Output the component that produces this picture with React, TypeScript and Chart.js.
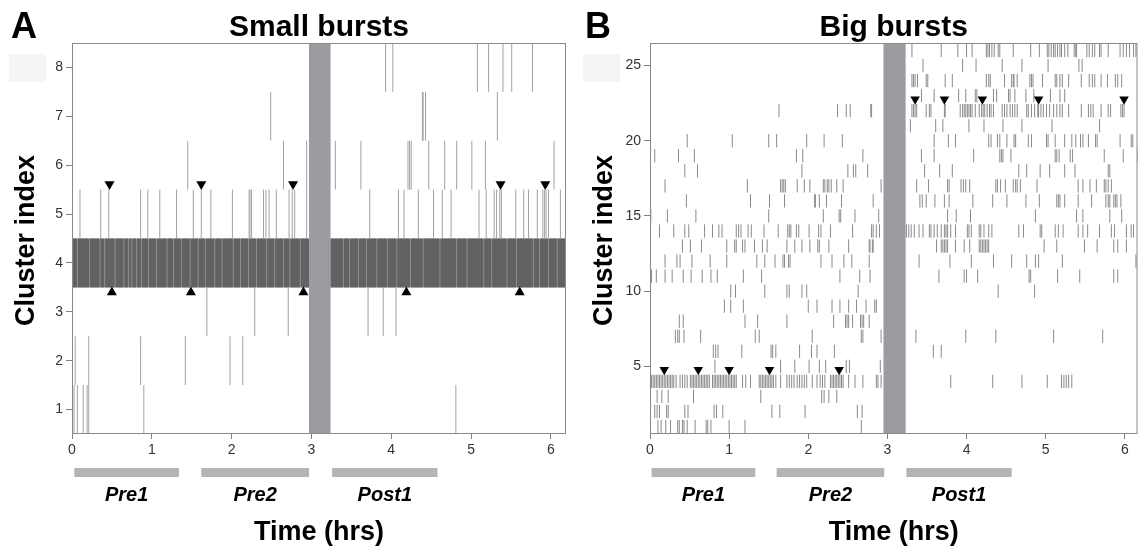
import React, { useEffect, useRef } from 'react';
import { Chart, registerables } from 'chart.js';

Chart.register(...registerables);

const FONT = '"Liberation Sans", Arial, Helvetica, sans-serif';

// ---------------- Panel A : Small bursts ----------------
const smallYTicks = [1, 2, 3, 4, 5, 6, 7, 8];
const xTickValues = [0, 1, 2, 3, 4, 5, 6];
const epochNames = ['Pre1', 'Pre2', 'Post1'];

const smallC1 = [0.025, 0.067, 0.14, 0.19, 0.21, 0.9, 4.81];
const smallC2 = [0.04, 0.21, 0.86, 1.42, 1.98, 2.14];
const smallC3 = [1.69, 2.29, 2.71, 3.71, 3.9, 4.06];
const smallC5 = [0.1, 0.36, 0.46, 0.86, 0.95, 1.1, 1.31, 1.52, 1.62, 1.74, 2.01, 2.22, 2.23, 2.25, 2.4, 2.43, 2.47, 2.56, 2.72, 2.76, 2.79, 2.94, 3.73, 4.09, 4.16, 4.34, 4.53, 4.64, 4.75, 5.1, 5.19, 5.29, 5.32, 5.36, 5.38, 5.56, 5.66, 5.72, 5.83, 5.9, 5.92, 5.94, 5.97, 6.12];
const smallC6 = [1.45, 2.65, 2.94, 3.3, 3.62, 4.21, 4.23, 4.25, 4.47, 4.67, 4.82, 5.01, 5.18, 6.04];
const smallC7 = [2.49, 4.39, 4.4, 4.43, 5.33];
const smallC8 = [3.93, 4.02, 5.08, 5.22, 5.4, 5.51, 5.77];
const smallClusters = [1, 2, 3, 5, 6, 7, 8];
const smallRows = [smallC1, smallC2, smallC3, smallC5, smallC6, smallC7, smallC8];

// cluster 4 is almost continuously active: the two active epochs, and the dense runs inside them
const smallC4Span: [number, number][] = [[0, 2.97], [3.24, 6.19]];
const smallC4Runs: [number, number][] = [
  [0, 0.063], [0.073, 0.215], [0.225, 0.345], [0.355, 0.405], [0.415, 0.535], [0.545, 0.645],
  [0.655, 0.705], [0.715, 0.745], [0.755, 0.805], [0.815, 0.865], [0.875, 0.955], [0.965, 1.055],
  [1.065, 1.185], [1.195, 1.265], [1.275, 1.365], [1.375, 1.475], [1.485, 1.575], [1.585, 1.665],
  [1.675, 1.785], [1.795, 1.875], [1.885, 2.015], [2.025, 2.105], [2.115, 2.205], [2.215, 2.305],
  [2.315, 2.435], [2.445, 2.535], [2.545, 2.645], [2.655, 2.725], [2.735, 2.855], [2.865, 2.97],
  [3.24, 3.395], [3.405, 3.475], [3.485, 3.585], [3.595, 3.685], [3.695, 3.815], [3.825, 3.945],
  [3.955, 4.065], [4.075, 4.235], [4.245, 4.395], [4.405, 4.605], [4.615, 4.815], [4.825, 4.945],
  [4.955, 5.155], [5.165, 5.255], [5.265, 5.445], [5.455, 5.565], [5.575, 5.775], [5.785, 5.855],
  [5.865, 5.965], [5.975, 6.075], [6.085, 6.19],
];

const smallDownMarks = [0.47, 1.62, 2.77, 5.37, 5.93];
const smallUpMarks = [0.5, 1.49, 2.9, 4.19, 5.61];
const smallStim: [number, number] = [2.97, 3.24];
const smallEpochs: [number, number][] = [[0.03, 1.34], [1.62, 2.97], [3.26, 4.58]];

// ---------------- Panel B : Big bursts ----------------
const bigYTicks = [5, 10, 15, 20, 25];
const bigC1 = [0.1, 0.14, 0.2, 0.26, 0.35, 0.37, 0.41, 0.43, 0.47, 0.57, 0.71, 0.73, 0.77, 1.0, 1.2, 2.67];
const bigC2 = [0.06, 0.09, 0.12, 0.21, 0.23, 0.44, 0.48, 0.81, 0.84, 0.92, 1.54, 1.64, 1.96, 2.62, 2.68];
const bigC3 = [0.09, 0.15, 0.23, 0.55, 1.4, 2.17, 2.2, 2.26, 2.36];
const bigC4 = [0.02, 0.04, 0.06, 0.08, 0.1, 0.12, 0.14, 0.16, 0.18, 0.2, 0.22, 0.24, 0.26, 0.28, 0.3, 0.33, 0.38, 0.41, 0.44, 0.47, 0.51, 0.53, 0.55, 0.57, 0.59, 0.61, 0.63, 0.65, 0.67, 0.69, 0.71, 0.73, 0.75, 0.79, 0.81, 0.83, 0.85, 0.87, 0.89, 0.91, 0.93, 0.95, 0.97, 0.99, 1.01, 1.03, 1.05, 1.07, 1.09, 1.17, 1.21, 1.27, 1.38, 1.4, 1.42, 1.44, 1.46, 1.48, 1.5, 1.52, 1.54, 1.56, 1.59, 1.65, 1.73, 1.76, 1.79, 1.82, 1.86, 1.89, 1.92, 1.95, 1.98, 2.05, 2.11, 2.15, 2.18, 2.21, 2.28, 2.3, 2.32, 2.34, 2.36, 2.38, 2.4, 2.42, 2.44, 2.51, 2.59, 2.69, 2.86, 2.88, 2.92, 3.8, 4.33, 4.7, 5.02, 5.2, 5.23, 5.26, 5.29, 5.33];
const bigC5 = [0.82, 1.65, 1.83, 2.01, 2.14, 2.22, 2.48, 2.52, 2.91];
const bigC6 = [0.8, 0.83, 0.86, 1.16, 1.53, 1.55, 1.59, 1.89, 2.04, 2.11, 2.33, 3.58, 3.68];
const bigC7 = [0.005, 0.32, 0.35, 0.37, 0.43, 0.64, 1.33, 1.38, 2.05, 2.67, 2.69, 2.92, 3.36, 3.99, 4.37, 5.1, 5.72];
const bigC8 = [0.37, 0.42, 1.2, 1.36, 1.73, 2.32, 2.47, 2.49, 2.51, 2.56, 2.66, 2.68, 2.7, 2.77];
const bigC9 = [0.94, 1.02, 1.18, 2.0, 2.11, 2.3, 2.4, 2.51, 2.61, 2.73, 2.84, 2.86];
const bigC10 = [1.02, 1.08, 1.45, 1.73, 1.76, 1.92, 1.98, 2.63, 4.4, 4.86];
const bigC11 = [0.02, 0.08, 0.19, 0.28, 0.42, 0.52, 0.66, 0.77, 0.85, 1.18, 1.41, 2.4, 2.65, 2.78, 3.65, 3.97, 4.0, 4.14, 4.79, 4.81, 5.15, 5.43, 5.86, 5.91];
const bigC12 = [0.19, 0.34, 0.38, 0.53, 0.76, 0.97, 1.35, 1.45, 1.58, 1.68, 1.7, 1.75, 1.77, 2.16, 2.3, 2.45, 2.55, 2.77, 3.4, 3.79, 4.06, 4.34, 4.57, 4.76, 4.87, 4.91, 5.21, 6.14];
const bigC13 = [0.41, 0.51, 0.65, 0.97, 1.07, 1.09, 1.17, 1.2, 1.32, 1.42, 1.48, 1.73, 1.83, 1.92, 2.02, 2.12, 2.14, 2.26, 2.51, 2.77, 2.78, 2.81, 2.82, 3.62, 3.68, 3.7, 3.72, 3.74, 3.76, 3.86, 3.97, 4.04, 4.16, 4.18, 4.2, 4.22, 4.24, 4.26, 4.28, 4.98, 5.14, 5.49, 5.65, 5.86, 5.91, 6.02];
const bigC14 = [0.12, 0.3, 0.44, 0.49, 0.69, 0.79, 0.87, 0.91, 1.09, 1.12, 1.15, 1.24, 1.28, 1.44, 1.62, 1.74, 1.76, 1.78, 1.85, 1.88, 2.01, 2.13, 2.16, 2.28, 2.56, 2.8, 2.82, 2.86, 2.9, 3.24, 3.27, 3.3, 3.34, 3.4, 3.45, 3.53, 3.55, 3.59, 3.63, 3.68, 3.72, 3.74, 3.76, 3.8, 3.86, 4.01, 4.03, 4.06, 4.16, 4.18, 4.22, 4.28, 4.32, 4.66, 4.72, 4.93, 4.95, 5.12, 5.16, 5.22, 5.41, 5.47, 5.53, 5.68, 5.83, 5.87, 6.02, 6.08, 6.11];
const bigC15 = [0.01, 0.22, 0.58, 1.5, 2.19, 2.39, 2.41, 2.59, 2.89, 3.76, 3.87, 4.05, 4.87, 5.39, 5.47, 5.81, 5.96];
const bigC16 = [0.46, 1.27, 1.51, 1.7, 2.08, 2.09, 2.14, 2.23, 2.42, 2.82, 3.41, 3.44, 3.49, 3.6, 3.72, 3.78, 4.08, 4.33, 4.51, 4.75, 4.92, 5.14, 5.16, 5.18, 5.24, 5.41, 5.58, 5.76, 5.79, 5.81, 5.86, 5.88, 5.9, 5.95];
const bigC17 = [0.19, 1.23, 1.65, 1.67, 1.69, 1.71, 1.86, 1.95, 2.02, 2.19, 2.21, 2.24, 2.26, 2.29, 2.36, 2.44, 2.92, 3.37, 3.52, 3.76, 3.78, 3.93, 3.96, 3.99, 4.04, 4.37, 4.39, 4.43, 4.49, 4.59, 4.62, 4.64, 4.68, 4.89, 5.41, 5.47, 5.56, 5.64, 5.74, 5.76, 5.79, 5.83];
const bigC18 = [0.44, 0.6, 1.92, 2.5, 2.57, 2.6, 2.75, 3.47, 3.66, 3.82, 4.66, 4.76, 4.93, 5.05, 5.24, 5.37, 5.79, 5.81];
const bigC19 = [0.06, 0.36, 0.56, 1.85, 1.93, 2.69, 3.43, 3.59, 4.09, 4.42, 4.44, 4.46, 4.56, 5.12, 5.14, 5.17, 5.31, 5.34, 5.74, 5.98, 6.16];
const bigC20 = [0.47, 1.04, 1.5, 1.6, 1.98, 2.2, 2.43, 3.59, 3.77, 3.86, 4.28, 4.31, 4.39, 4.42, 4.51, 4.6, 4.62, 4.78, 4.82, 5.01, 5.03, 5.12, 5.24, 5.33, 5.38, 5.44, 5.47, 5.54, 5.63, 5.65, 5.94, 6.08, 6.1];
const bigC21 = [3.29, 3.61, 3.7, 4.03, 4.22, 4.46, 4.7, 5.08, 5.68];
const bigC22 = [1.63, 2.37, 2.48, 2.53, 2.79, 2.8, 3.31, 3.33, 3.35, 3.37, 3.49, 3.53, 3.55, 3.72, 3.73, 3.92, 3.95, 3.97, 3.99, 4.01, 4.03, 4.05, 4.07, 4.11, 4.16, 4.19, 4.21, 4.23, 4.26, 4.29, 4.31, 4.34, 4.45, 4.48, 4.51, 4.55, 4.58, 4.61, 4.64, 4.76, 4.78, 4.82, 4.86, 4.9, 4.91, 4.94, 4.97, 5.01, 5.05, 5.1, 5.14, 5.18, 5.21, 5.29, 5.45, 5.54, 5.57, 5.6, 5.7, 5.79, 5.82, 5.95, 5.97, 5.99];
const bigC23 = [3.43, 3.59, 3.9, 3.99, 4.11, 4.13, 4.34, 4.38, 4.53, 4.55, 4.61, 4.75, 4.85, 5.06, 5.18, 5.24];
const bigC24 = [3.31, 3.33, 3.35, 3.38, 3.49, 3.51, 3.73, 3.82, 4.25, 4.28, 4.3, 4.48, 4.57, 4.59, 4.6, 4.64, 4.8, 4.82, 4.84, 4.96, 5.12, 5.14, 5.18, 5.21, 5.29, 5.45, 5.55, 5.59, 5.62, 5.7, 5.78, 5.88, 5.91, 5.96];
const bigC25 = [3.45, 3.95, 4.12, 4.45, 4.7, 5.03, 5.42, 5.46];
const bigC26 = [3.31, 3.68, 3.89, 4.0, 4.07, 4.25, 4.27, 4.29, 4.32, 4.35, 4.4, 4.42, 4.59, 4.81, 4.92, 5.02, 5.04, 5.07, 5.1, 5.12, 5.15, 5.18, 5.2, 5.24, 5.28, 5.36, 5.38, 5.39, 5.52, 5.55, 5.59, 5.62, 5.68, 5.7, 5.79, 5.94, 5.98, 6.02, 6.06, 6.11, 6.14];
const bigClusters = [1, 2, 3, 4, 5, 6, 7, 8, 9, 10, 11, 12, 13, 14, 15, 16, 17, 18, 19, 20, 21, 22, 23, 24, 25, 26];
const bigRows = [bigC1, bigC2, bigC3, bigC4, bigC5, bigC6, bigC7, bigC8, bigC9, bigC10, bigC11, bigC12, bigC13, bigC14, bigC15, bigC16, bigC17, bigC18, bigC19, bigC20, bigC21, bigC22, bigC23, bigC24, bigC25, bigC26];

const bigDownMarksLow = [0.18, 0.61, 1.0, 1.51, 2.39];
const bigDownMarksHigh = [3.35, 3.72, 4.2, 4.91, 5.99];
const bigStim: [number, number] = [2.95, 3.23];
const bigEpochs: [number, number][] = [[0.02, 1.33], [1.6, 2.96], [3.24, 4.57]];

type Spec = {
  letter: string;
  title: string;
  canvasWidth: number;
  axisWidth: number;
  rightPad: number;
  xMax: number;
  yMin: number;
  yMax: number;
  yTicks: number[];
  clusters: number[];
  rows: number[][];
  tickHalf: number;
  tickColor: string;
  span?: [number, number][];
  run?: [number, number][];
  runCluster?: number;
  marks: { xs: number[]; y: number; down: boolean }[];
  triR: number;
  stim: [number, number];
  epochs: [number, number][];
  yTitleX: number;
  letterX: number;
};

function makeDecor(p: Spec) {
  return {
    id: 'decor',
    beforeDatasetsDraw(chart: any) {
      const { ctx, chartArea: ca, scales } = chart;
      const x = scales.x;
      ctx.save();
      ctx.fillStyle = '#9c9ca0';
      const a = x.getPixelForValue(p.stim[0]);
      const b = x.getPixelForValue(p.stim[1]);
      ctx.fillRect(a, ca.top, b - a, ca.bottom - ca.top);
      ctx.restore();
    },
    afterDraw(chart: any) {
      const { ctx, chartArea: ca, scales } = chart;
      const x = scales.x;
      ctx.save();
      // frame
      ctx.strokeStyle = '#8a8a8a';
      ctx.lineWidth = 1;
      ctx.strokeRect(ca.left + 0.5, ca.top + 0.5, ca.right - ca.left - 1, ca.bottom - ca.top - 1);
      // faint scan artifact box
      ctx.fillStyle = '#f7f5f3';
      ctx.fillRect(p.letterX - 2, 54, 37, 28);
      // letter
      ctx.fillStyle = '#000';
      ctx.textAlign = 'left';
      ctx.textBaseline = 'alphabetic';
      ctx.font = `bold 36px ${FONT}`;
      ctx.fillText(p.letter, p.letterX, 38);
      // title
      ctx.textAlign = 'center';
      ctx.font = `bold 30px ${FONT}`;
      ctx.fillText(p.title, (ca.left + ca.right) / 2, 36);
      // y title
      ctx.save();
      ctx.translate(p.yTitleX, (ca.top + ca.bottom) / 2 + 2);
      ctx.rotate(-Math.PI / 2);
      ctx.font = `bold 27px ${FONT}`;
      ctx.fillText('Cluster index', 0, 0);
      ctx.restore();
      // epoch bars and labels
      p.epochs.forEach(([s, e], i) => {
        const a = x.getPixelForValue(s);
        const b = x.getPixelForValue(e);
        ctx.fillStyle = '#b4b4b4';
        ctx.fillRect(a, ca.bottom + 34, b - a, 9);
        ctx.fillStyle = '#000';
        ctx.font = `italic bold 20px ${FONT}`;
        ctx.fillText(epochNames[i], (a + b) / 2, ca.bottom + 67);
      });
      // x title
      ctx.font = `bold 27px ${FONT}`;
      ctx.fillText('Time (hrs)', (ca.left + ca.right) / 2, 540);
      ctx.restore();
    },
  };
}

function makeConfig(p: Spec): any {
  const tickData: { x: number; y: number }[] = [];
  p.rows.forEach((row, i) => row.forEach((t) => tickData.push({ x: t, y: p.clusters[i] })));
  const halfTick = (ctx: any) => {
    const ys = ctx.chart.scales.y;
    return Math.abs(ys.getPixelForValue(p.tickHalf) - ys.getPixelForValue(0));
  };
  const datasets: any[] = [];
  const barBase = {
    type: 'bar',
    indexAxis: 'y',
    borderWidth: 0,
    barPercentage: 1,
    categoryPercentage: 1,
    inflateAmount: 0,
    grouped: false,
  };
  if (p.span) {
    datasets.push({
      ...barBase,
      data: p.span.map(([s, e]) => ({ x: [s, e], y: p.runCluster })),
      backgroundColor: '#9a9a9a',
      order: 6,
    });
  }
  if (p.run) {
    datasets.push({
      ...barBase,
      data: p.run.map(([s, e]) => ({ x: [s, e], y: p.runCluster })),
      backgroundColor: '#626262',
      order: 5,
    });
  }
  datasets.push({
    type: 'scatter',
    data: tickData,
    pointStyle: 'line',
    rotation: 90,
    pointRadius: halfTick,
    pointHoverRadius: halfTick,
    borderColor: p.tickColor,
    borderWidth: 1,
    showLine: false,
    order: 4,
  });
  p.marks.forEach((m) => {
    datasets.push({
      type: 'scatter',
      data: m.xs.map((v) => ({ x: v, y: m.y })),
      pointStyle: 'triangle',
      rotation: m.down ? 180 : 0,
      pointRadius: p.triR,
      pointHoverRadius: p.triR,
      backgroundColor: '#000',
      borderColor: '#000',
      borderWidth: 0,
      showLine: false,
      order: 1,
    });
  });
  const tickFont = { family: FONT, size: 14 };
  return {
    type: 'scatter',
    data: { datasets },
    plugins: [makeDecor(p)],
    options: {
      animation: false,
      responsive: false,
      events: [],
      layout: { padding: { left: 0, top: 43, right: p.rightPad, bottom: 0 } },
      plugins: { legend: { display: false }, tooltip: { enabled: false }, title: { display: false } },
      scales: {
        x: {
          type: 'linear',
          offset: false,
          min: 0,
          max: p.xMax,
          afterBuildTicks: (s: any) => {
            s.ticks = xTickValues.map((v) => ({ value: v }));
          },
          afterFit: (s: any) => {
            s.height = 114;
          },
          grid: { display: true, offset: false, drawOnChartArea: false, drawTicks: true, tickLength: 5, color: '#808080' },
          border: { display: false },
          ticks: { font: tickFont, color: '#333', padding: 3, maxRotation: 0, autoSkip: false },
        },
        y: {
          type: 'linear',
          offset: false,
          min: p.yMin,
          max: p.yMax,
          afterBuildTicks: (s: any) => {
            s.ticks = p.yTicks.map((v) => ({ value: v }));
          },
          afterFit: (s: any) => {
            s.width = p.axisWidth;
          },
          grid: { display: true, offset: false, drawOnChartArea: false, drawTicks: true, tickLength: 6, color: '#808080' },
          border: { display: false },
          ticks: { font: tickFont, color: '#333', padding: 3, autoSkip: false },
        },
      },
    },
  };
}

const specA: Spec = {
  letter: 'A',
  title: 'Small bursts',
  canvasWidth: 575,
  axisWidth: 72,
  rightPad: 9,
  xMax: 6.19,
  yMin: 0.5,
  yMax: 8.5,
  yTicks: smallYTicks,
  clusters: smallClusters,
  rows: smallRows,
  tickHalf: 0.5,
  tickColor: '#a2a2a2',
  span: smallC4Span,
  run: smallC4Runs,
  runCluster: 4,
  marks: [
    { xs: smallDownMarks, y: 5.61, down: true },
    { xs: smallUpMarks, y: 3.4, down: false },
  ],
  triR: 5.8,
  stim: smallStim,
  epochs: smallEpochs,
  yTitleX: 34,
  letterX: 11,
};

const specB: Spec = {
  letter: 'B',
  title: 'Big bursts',
  canvasWidth: 568,
  axisWidth: 75,
  rightPad: 1,
  xMax: 6.16,
  yMin: 0.5,
  yMax: 26.5,
  yTicks: bigYTicks,
  clusters: bigClusters,
  rows: bigRows,
  tickHalf: 0.44,
  tickColor: '#8a8a8a',
  marks: [
    { xs: bigDownMarksLow, y: 4.78, down: true },
    { xs: bigDownMarksHigh, y: 22.76, down: true },
  ],
  triR: 5.5,
  stim: bigStim,
  epochs: bigEpochs,
  yTitleX: 37,
  letterX: 10,
};

function Panel({ spec, left }: { spec: Spec; left: number }) {
  const ref = useRef<HTMLCanvasElement>(null);
  useEffect(() => {
    const chart = new Chart(ref.current as HTMLCanvasElement, makeConfig(spec));
    return () => chart.destroy();
  }, [spec]);
  return (
    <canvas
      ref={ref}
      width={spec.canvasWidth}
      height={548}
      style={{ position: 'absolute', left, top: 0, width: spec.canvasWidth, height: 548 }}
    />
  );
}

export default function App() {
  return (
    <div style={{ position: 'absolute', left: 0, top: 0, width: 1143, height: 548, background: '#fff', overflow: 'hidden' }}>
      <Panel spec={specA} left={0} />
      <Panel spec={specB} left={575} />
    </div>
  );
}
